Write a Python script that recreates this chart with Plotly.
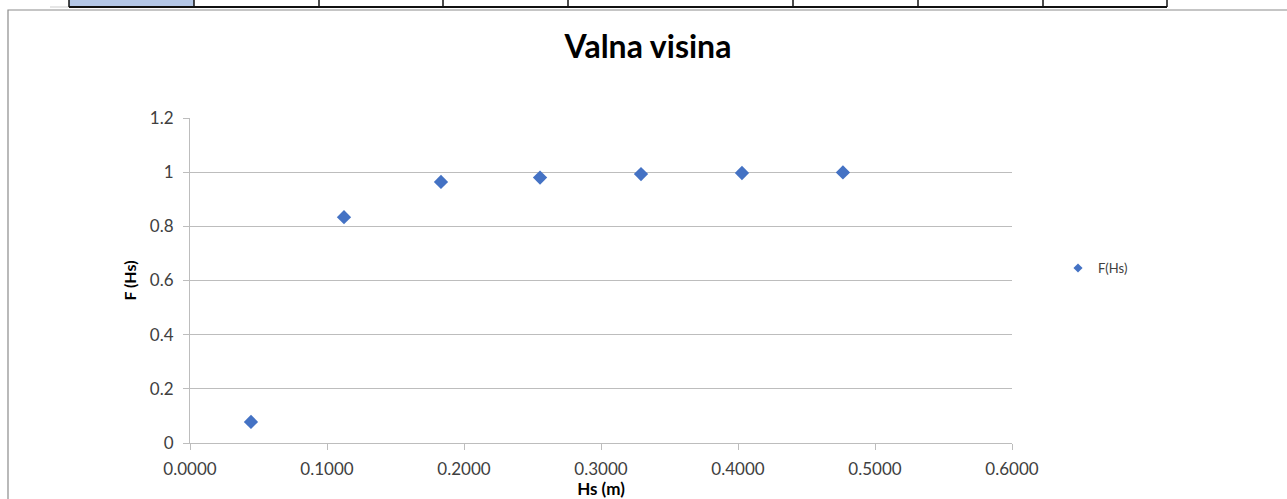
import plotly.graph_objects as go

hs = [0.0445, 0.1124, 0.1832, 0.2555, 0.3292, 0.4029, 0.4766]
f_hs = [0.078, 0.834, 0.964, 0.980, 0.993, 0.997, 0.999]
x_ticks = [0.0, 0.1, 0.2, 0.3, 0.4, 0.5, 0.6]
x_labels = ["0.0000", "0.1000", "0.2000", "0.3000", "0.4000", "0.5000", "0.6000"]
y_ticks = [0, 0.2, 0.4, 0.6, 0.8, 1.0, 1.2]
y_labels = ["0", "0.2", "0.4", "0.6", "0.8", "1", "1.2"]
table_cols = [69, 194, 319, 443, 568, 793, 918, 1043, 1167]

W, H = 1287, 499
L, R, T, B = 190, 1012, 118, 443  # plot area in page pixels
FONT = "Lato"
GRID = "#BDBDBD"

def px(x):
    return (x - L) / (R - L)

def py(y):
    return (B - y) / (B - T)

fig = go.Figure()
fig.add_trace(go.Scatter(
    x=hs, y=f_hs, mode="markers", name="F(Hs)", showlegend=False,
    marker=dict(symbol="diamond", size=11, color="#4472C4"),
))
# legend entry (smaller symbol, like the reference legend)
fig.add_trace(go.Scatter(
    x=[None], y=[None], mode="markers", name="F(Hs)", showlegend=True,
    marker=dict(symbol="diamond", size=7, color="#4472C4"),
))

shapes = []
# chart frame
shapes.append(dict(type="rect", xref="paper", yref="paper",
                   x0=px(8), x1=px(1300), y0=py(520), y1=py(10),
                   line=dict(color="#8c8c8c", width=1.2), fillcolor="rgba(0,0,0,0)", layer="below"))
# spreadsheet cells above the chart
shapes.append(dict(type="rect", xref="paper", yref="paper",
                   x0=px(table_cols[0]), x1=px(table_cols[1]), y0=py(7), y1=py(-5),
                   line=dict(width=0), fillcolor="#B4C7E7"))
shapes.append(dict(type="rect", xref="paper", yref="paper",
                   x0=px(50), x1=px(table_cols[0]), y0=py(8), y1=py(6),
                   line=dict(width=0), fillcolor="#E6E6E6"))
shapes.append(dict(type="line", xref="paper", yref="paper",
                   x0=px(table_cols[0]), x1=px(table_cols[-1]), y0=py(7), y1=py(7),
                   line=dict(color="#111111", width=2)))
for c in table_cols:
    shapes.append(dict(type="line", xref="paper", yref="paper",
                       x0=px(c), x1=px(c), y0=py(7), y1=py(-5),
                       line=dict(color="#111111", width=1.5)))

fig.update_layout(
    width=W, height=H,
    margin=dict(l=L, r=W - R, t=T, b=H - B, autoexpand=False),
    paper_bgcolor="white", plot_bgcolor="white",
    font=dict(family=FONT, color="#404040", size=17),
    title=dict(text="<b>Valna visina</b>", x=px(648), xref="paper", xanchor="center",
               y=1 - 47 / H, yanchor="middle",
               font=dict(family=FONT, size=32, color="#000000")),
    showlegend=True,
    legend=dict(x=px(1058), xanchor="left", y=py(268), yanchor="middle",
                font=dict(family=FONT, size=13, color="#404040"),
                itemwidth=30, bgcolor="rgba(0,0,0,0)"),
    shapes=shapes,
)
fig.update_xaxes(
    range=[0, 0.6], tickvals=x_ticks, ticktext=x_labels, automargin=False,
    showgrid=False, showline=True, linecolor=GRID, linewidth=1,
    ticks="outside", ticklen=6, tickcolor=GRID, ticklabelstandoff=5,
    zeroline=False,
    title=dict(text="<b>Hs (m)</b>", font=dict(family=FONT, size=17, color="#000000"), standoff=4),
    tickfont=dict(size=17, color="#404040"),
)
fig.update_yaxes(
    range=[0, 1.2], tickvals=y_ticks, ticktext=y_labels, automargin=False,
    showgrid=True, gridcolor=GRID, gridwidth=1,
    showline=True, linecolor=GRID, linewidth=1,
    ticks="outside", ticklen=6, tickcolor=GRID, ticklabelstandoff=6,
    zeroline=False,
    title=dict(text="<b>F (Hs)</b>", font=dict(family=FONT, size=16, color="#000000"), standoff=9),
    tickfont=dict(size=17, color="#404040"),
)

fig.write_html("out.html", config={"displayModeBar": False},
               post_script="document.body.style.margin='0px';document.body.style.overflow='hidden';")
